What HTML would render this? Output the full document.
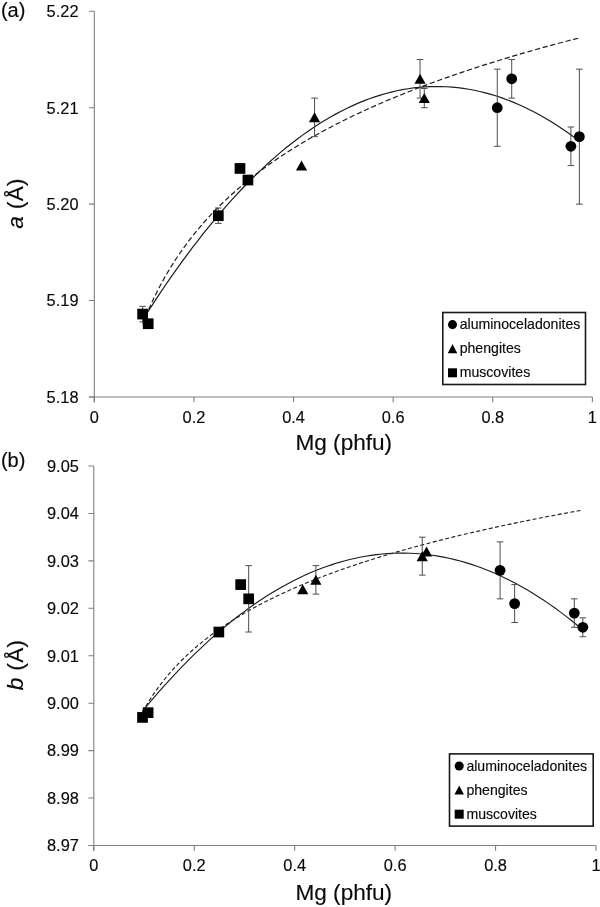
<!DOCTYPE html>
<html><head><meta charset="utf-8"><title>chart</title>
<style>
html,body{margin:0;padding:0;background:#fff;}
svg{display:block;will-change:transform;}
text{font-family:"Liberation Sans",sans-serif;fill:#0a0a0a;stroke:#0a0a0a;stroke-width:0.15px;}
.t16{font-size:16.4px;}
.t14{font-size:14.1px;}
.t20{font-size:20px;}
.t22{font-size:22.6px;}
</style></head><body>
<svg width="600" height="907" viewBox="0 0 600 907">
<rect width="600" height="907" fill="#fff"/>
<path d="M94.30 11.30V402.20M88.90 397.00H592.40" stroke="#7f7f7f" stroke-width="1.1" fill="none"/>
<text x="78.50" y="17.10" text-anchor="end" class="t16">5.22</text>
<text x="78.50" y="113.52" text-anchor="end" class="t16">5.21</text>
<text x="78.50" y="209.95" text-anchor="end" class="t16">5.20</text>
<text x="78.50" y="306.38" text-anchor="end" class="t16">5.19</text>
<text x="78.50" y="402.80" text-anchor="end" class="t16">5.18</text>
<text x="94.30" y="422.60" text-anchor="middle" class="t16">0</text>
<text x="193.92" y="422.60" text-anchor="middle" class="t16">0.2</text>
<text x="293.54" y="422.60" text-anchor="middle" class="t16">0.4</text>
<text x="393.16" y="422.60" text-anchor="middle" class="t16">0.6</text>
<text x="492.78" y="422.60" text-anchor="middle" class="t16">0.8</text>
<text x="592.40" y="422.60" text-anchor="middle" class="t16">1</text>
<path d="M88.90 11.30H94.30M88.90 107.72H94.30M88.90 204.15H94.30M88.90 300.57H94.30M88.90 397.00H94.30M94.30 397.00v5.2M193.92 397.00v5.2M293.54 397.00v5.2M393.16 397.00v5.2M492.78 397.00v5.2M592.40 397.00v5.2" stroke="#7f7f7f" stroke-width="1.1" fill="none"/>
<text x="343.8" y="450.30" text-anchor="middle" class="t22">Mg (phfu)</text>
<text transform="translate(23.2 203.40) rotate(-90)" text-anchor="middle" class="t22" letter-spacing="0.3"><tspan font-style="italic">a</tspan> (Å)</text>
<text x="0.9" y="16.90" class="t20">(a)</text>
<polyline points="142.62,324.11 148.14,310.67 153.67,298.54 159.20,287.49 164.73,277.35 170.26,267.97 175.79,259.26 181.31,251.11 186.84,243.47 192.37,236.27 197.90,229.46 203.43,223.01 208.96,216.88 214.48,211.04 220.01,205.46 225.54,200.12 231.07,195.00 236.60,190.08 242.12,185.35 247.65,180.79 253.18,176.40 258.71,172.16 264.24,168.05 269.77,164.08 275.29,160.23 280.82,156.50 286.35,152.87 291.88,149.35 297.41,145.93 302.94,142.59 308.46,139.35 313.99,136.19 319.52,133.10 325.05,130.09 330.58,127.16 336.11,124.29 341.63,121.48 347.16,118.74 352.69,116.06 358.22,113.43 363.75,110.86 369.28,108.34 374.80,105.87 380.33,103.44 385.86,101.07 391.39,98.74 396.92,96.45 402.44,94.20 407.97,92.00 413.50,89.83 419.03,87.70 424.56,85.60 430.09,83.54 435.61,81.52 441.14,79.52 446.67,77.56 452.20,75.63 457.73,73.73 463.26,71.85 468.78,70.01 474.31,68.19 479.84,66.40 485.37,64.63 490.90,62.89 496.43,61.17 501.95,59.48 507.48,57.81 513.01,56.16 518.54,54.53 524.07,52.92 529.60,51.34 535.12,49.77 540.65,48.23 546.18,46.70 551.71,45.19 557.24,43.70 562.76,42.23 568.29,40.77 573.82,39.33 579.35,37.91" fill="none" stroke="#1c1c1c" stroke-width="1.2" stroke-dasharray="5.2 2.7"/>
<polyline points="142.62,320.02 148.14,311.32 153.67,302.80 159.20,294.43 164.73,286.23 170.26,278.20 175.79,270.33 181.31,262.63 186.84,255.09 192.37,247.71 197.90,240.51 203.43,233.46 208.96,226.58 214.48,219.87 220.01,213.32 225.54,206.93 231.07,200.71 236.60,194.66 242.12,188.77 247.65,183.04 253.18,177.48 258.71,172.09 264.24,166.86 269.77,161.79 275.29,156.89 280.82,152.15 286.35,147.58 291.88,143.18 297.41,138.93 302.94,134.86 308.46,130.95 313.99,127.20 319.52,123.62 325.05,120.20 330.58,116.95 336.11,113.86 341.63,110.94 347.16,108.18 352.69,105.59 358.22,103.16 363.75,100.90 369.28,98.80 374.80,96.87 380.33,95.10 385.86,93.50 391.39,92.06 396.92,90.78 402.44,89.68 407.97,88.73 413.50,87.95 419.03,87.34 424.56,86.89 430.09,86.60 435.61,86.49 441.14,86.53 446.67,86.74 452.20,87.12 457.73,87.66 463.26,88.36 468.78,89.23 474.31,90.27 479.84,91.47 485.37,92.83 490.90,94.36 496.43,96.05 501.95,97.91 507.48,99.94 513.01,102.12 518.54,104.48 524.07,107.00 529.60,109.68 535.12,112.53 540.65,115.54 546.18,118.72 551.71,122.06 557.24,125.57 562.76,129.24 568.29,133.08 573.82,137.08 579.35,141.25" fill="none" stroke="#1c1c1c" stroke-width="1.2"/>
<path d="M142.62 306.36V321.79M139.32 306.36h6.6M139.32 321.79h6.6M218.33 208.01V223.43M215.03 208.01h6.6M215.03 223.43h6.6M314.56 98.08V136.65M311.26 98.08h6.6M311.26 136.65h6.6M420.06 59.51V98.08M416.76 59.51h6.6M416.76 98.08h6.6M424.29 88.44V107.72M420.99 88.44h6.6M420.99 107.72h6.6M497.26 69.16V146.29M493.96 69.16h6.6M493.96 146.29h6.6M511.71 59.51V98.08M508.41 59.51h6.6M508.41 98.08h6.6M570.88 127.01V165.58M567.58 127.01h6.6M567.58 165.58h6.6M579.35 69.16V204.15M576.05 69.16h6.6M576.05 204.15h6.6" stroke="#4d4d4d" stroke-width="1" fill="none"/>
<rect x="137.27" y="308.72" width="10.7" height="10.7"/>
<rect x="142.84" y="318.37" width="10.7" height="10.7"/>
<rect x="212.98" y="210.37" width="10.7" height="10.7"/>
<rect x="234.64" y="163.12" width="10.7" height="10.7"/>
<rect x="242.56" y="174.69" width="10.7" height="10.7"/>
<path d="M301.51 160.58l5.6 10h-11.2z"/>
<path d="M314.56 112.37l5.6 10h-11.2z"/>
<path d="M420.06 73.80l5.6 10h-11.2z"/>
<path d="M424.29 93.08l5.6 10h-11.2z"/>
<circle cx="497.26" cy="107.72" r="5.4"/>
<circle cx="511.71" cy="78.80" r="5.4"/>
<circle cx="570.88" cy="146.29" r="5.4"/>
<circle cx="579.35" cy="136.65" r="5.4"/>
<rect x="442.80" y="312.50" width="142.70" height="72.00" fill="#fff" stroke="#1a1a1a" stroke-width="1.6"/>
<circle cx="452.50" cy="324.60" r="4.55"/>
<text x="459.70" y="329.10" class="t14">aluminoceladonites</text>
<path d="M452.50 344.00l4.75 9.2h-9.5z"/>
<text x="459.70" y="353.20" class="t14">phengites</text>
<rect x="448.00" y="368.30" width="9" height="9"/>
<text x="459.70" y="377.30" class="t14">muscovites</text>
<path d="M93.80 466.00V850.70M88.40 845.50H596.00" stroke="#7f7f7f" stroke-width="1.1" fill="none"/>
<text x="78.90" y="471.80" text-anchor="end" class="t16">9.05</text>
<text x="78.90" y="519.24" text-anchor="end" class="t16">9.04</text>
<text x="78.90" y="566.67" text-anchor="end" class="t16">9.03</text>
<text x="78.90" y="614.11" text-anchor="end" class="t16">9.02</text>
<text x="78.90" y="661.55" text-anchor="end" class="t16">9.01</text>
<text x="78.90" y="708.99" text-anchor="end" class="t16">9.00</text>
<text x="78.90" y="756.42" text-anchor="end" class="t16">8.99</text>
<text x="78.90" y="803.86" text-anchor="end" class="t16">8.98</text>
<text x="78.90" y="851.30" text-anchor="end" class="t16">8.97</text>
<text x="93.80" y="871.10" text-anchor="middle" class="t16">0</text>
<text x="194.24" y="871.10" text-anchor="middle" class="t16">0.2</text>
<text x="294.68" y="871.10" text-anchor="middle" class="t16">0.4</text>
<text x="395.12" y="871.10" text-anchor="middle" class="t16">0.6</text>
<text x="495.56" y="871.10" text-anchor="middle" class="t16">0.8</text>
<text x="596.00" y="871.10" text-anchor="middle" class="t16">1</text>
<path d="M88.40 466.00H93.80M88.40 513.44H93.80M88.40 560.88H93.80M88.40 608.31H93.80M88.40 655.75H93.80M88.40 703.19H93.80M88.40 750.62H93.80M88.40 798.06H93.80M88.40 845.50H93.80M93.80 845.50v5.2M194.24 845.50v5.2M294.68 845.50v5.2M395.12 845.50v5.2M495.56 845.50v5.2M596.00 845.50v5.2" stroke="#7f7f7f" stroke-width="1.1" fill="none"/>
<text x="343.8" y="899.80" text-anchor="middle" class="t22">Mg (phfu)</text>
<text transform="translate(23.2 664.90) rotate(-90)" text-anchor="middle" class="t22" letter-spacing="0.3"><tspan font-style="italic">b</tspan> (Å)</text>
<text x="0.9" y="466.60" class="t20">(b)</text>
<polyline points="142.51,711.98 148.09,702.50 153.66,693.94 159.23,686.15 164.81,678.99 170.38,672.37 175.96,666.22 181.53,660.48 187.10,655.08 192.68,650.00 198.25,645.20 203.83,640.65 209.40,636.32 214.97,632.20 220.55,628.26 226.12,624.50 231.69,620.88 237.27,617.41 242.84,614.08 248.42,610.86 253.99,607.76 259.56,604.77 265.14,601.87 270.71,599.07 276.28,596.35 281.86,593.72 287.43,591.16 293.01,588.68 298.58,586.26 304.15,583.91 309.73,581.62 315.30,579.39 320.87,577.21 326.45,575.09 332.02,573.02 337.60,570.99 343.17,569.01 348.74,567.08 354.32,565.18 359.89,563.33 365.46,561.52 371.04,559.74 376.61,558.00 382.19,556.29 387.76,554.61 393.33,552.97 398.91,551.35 404.48,549.77 410.06,548.21 415.63,546.68 421.20,545.18 426.78,543.70 432.35,542.25 437.92,540.82 443.50,539.41 449.07,538.03 454.65,536.66 460.22,535.32 465.79,534.00 471.37,532.70 476.94,531.41 482.51,530.15 488.09,528.90 493.66,527.67 499.24,526.46 504.81,525.27 510.38,524.09 515.96,522.92 521.53,521.77 527.10,520.64 532.68,519.52 538.25,518.42 543.83,517.33 549.40,516.25 554.97,515.18 560.55,514.13 566.12,513.09 571.69,512.07 577.27,511.05 582.84,510.05" fill="none" stroke="#1c1c1c" stroke-width="1.12" stroke-dasharray="4 2.4"/>
<polyline points="142.51,711.19 148.09,704.47 153.66,697.90 159.23,691.47 164.81,685.19 170.38,679.05 175.96,673.06 181.53,667.22 187.10,661.52 192.68,655.97 198.25,650.57 203.83,645.31 209.40,640.19 214.97,635.23 220.55,630.40 226.12,625.73 231.69,621.20 237.27,616.81 242.84,612.58 248.42,608.48 253.99,604.54 259.56,600.74 265.14,597.08 270.71,593.57 276.28,590.21 281.86,586.99 287.43,583.92 293.01,580.99 298.58,578.21 304.15,575.58 309.73,573.09 315.30,570.75 320.87,568.55 326.45,566.50 332.02,564.60 337.60,562.84 343.17,561.23 348.74,559.76 354.32,558.44 359.89,557.26 365.46,556.24 371.04,555.35 376.61,554.61 382.19,554.02 387.76,553.58 393.33,553.28 398.91,553.12 404.48,553.12 410.06,553.25 415.63,553.54 421.20,553.97 426.78,554.54 432.35,555.26 437.92,556.13 443.50,557.14 449.07,558.30 454.65,559.61 460.22,561.06 465.79,562.65 471.37,564.40 476.94,566.29 482.51,568.32 488.09,570.50 493.66,572.83 499.24,575.30 504.81,577.91 510.38,580.68 515.96,583.59 521.53,586.64 527.10,589.84 532.68,593.19 538.25,596.68 543.83,600.32 549.40,604.11 554.97,608.04 560.55,612.11 566.12,616.34 571.69,620.70 577.27,625.22 582.84,629.88" fill="none" stroke="#1c1c1c" stroke-width="1.12"/>
<path d="M248.68 565.62V632.03M245.38 565.62h6.6M245.38 632.03h6.6M315.87 565.62V594.08M312.57 565.62h6.6M312.57 594.08h6.6M422.24 537.16V575.11M418.94 537.16h6.6M418.94 575.11h6.6M500.08 541.90V598.83M496.78 541.90h6.6M496.78 598.83h6.6M514.64 584.59V622.54M511.34 584.59h6.6M511.34 622.54h6.6M574.30 598.83V627.29M571.00 598.83h6.6M571.00 627.29h6.6M582.84 617.80V636.78M579.54 617.80h6.6M579.54 636.78h6.6" stroke="#4d4d4d" stroke-width="1" fill="none"/>
<rect x="137.16" y="712.07" width="10.7" height="10.7"/>
<rect x="142.79" y="707.33" width="10.7" height="10.7"/>
<rect x="213.50" y="626.68" width="10.7" height="10.7"/>
<rect x="235.34" y="579.24" width="10.7" height="10.7"/>
<rect x="243.33" y="593.48" width="10.7" height="10.7"/>
<path d="M302.72 584.34l5.6 10h-11.2z"/>
<path d="M315.87 574.85l5.6 10h-11.2z"/>
<path d="M422.24 551.13l5.6 10h-11.2z"/>
<path d="M426.51 546.39l5.6 10h-11.2z"/>
<circle cx="500.08" cy="570.36" r="5.4"/>
<circle cx="514.64" cy="603.57" r="5.4"/>
<circle cx="574.30" cy="613.06" r="5.4"/>
<circle cx="582.84" cy="627.29" r="5.4"/>
<rect x="449.50" y="753.90" width="143.70" height="72.20" fill="#fff" stroke="#1a1a1a" stroke-width="1.6"/>
<circle cx="459.20" cy="766.00" r="4.55"/>
<text x="466.40" y="770.50" class="t14">aluminoceladonites</text>
<path d="M459.20 785.40l4.75 9.2h-9.5z"/>
<text x="466.40" y="794.60" class="t14">phengites</text>
<rect x="454.70" y="809.70" width="9" height="9"/>
<text x="466.40" y="818.70" class="t14">muscovites</text>
</svg>
</body></html>
